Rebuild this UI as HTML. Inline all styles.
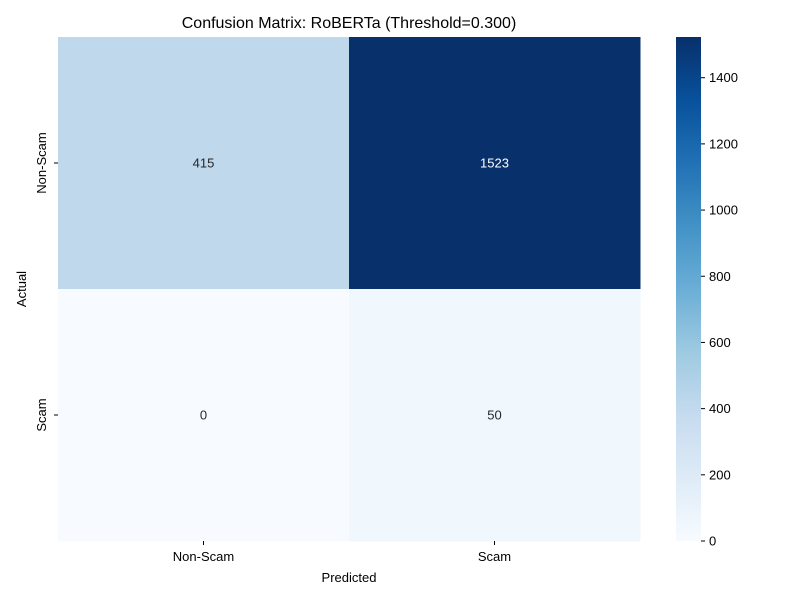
<!DOCTYPE html>
<html><head><meta charset="utf-8"><style>body{margin:0;background:#fff}svg{font-family:"Liberation Sans","DejaVu Sans",sans-serif}</style></head>
<body>
<svg id="c" width="800" height="600" viewBox="0 0 800 600">
<defs><linearGradient id="cbg" x1="0" y1="1" x2="0" y2="0"></linearGradient></defs>
<text x="349" y="28" text-anchor="middle" font-size="16" fill="#000">Confusion Matrix: RoBERTa (Threshold=0.300)</text>
<g id="cells"></g>
<g id="xt"></g><g id="yt"></g>
<text x="349" y="582" text-anchor="middle" font-size="13">Predicted</text>
<text transform="translate(26,289) rotate(-90)" text-anchor="middle" font-size="13">Actual</text>
<rect x="676" y="37" width="25" height="504" fill="url(#cbg)"/>
<g id="cbt"></g>
</svg>
<script>
const categories = ["Non-Scam","Scam"];
const matrix = [[415,1523],[0,50]];
const cbTicks = [0,200,400,600,800,1000,1200,1400];
const stops=["#f7fbff","#deebf7","#c6dbef","#9ecae1","#6baed6","#4292c6","#2171b5","#08519c","#08306b"];
const NS="http://www.w3.org/2000/svg";
const X0=58,X1=640,Y0=37,Y1=541;
const vmin=Math.min(...matrix.flat()),vmax=Math.max(...matrix.flat());
function h2r(h){return [1,3,5].map(i=>parseInt(h.substr(i,2),16));}
function cmap(v){let t=(v-vmin)/(vmax-vmin);t=Math.max(0,Math.min(1,t))*(stops.length-1);const i=Math.min(Math.floor(t),stops.length-2),f=t-i;const a=h2r(stops[i]),b=h2r(stops[i+1]);const c=a.map((x,k)=>Math.round(x+(b[k]-x)*f));return {s:`rgb(${c})`,l:(0.299*c[0]+0.587*c[1]+0.114*c[2])/255};}
function el(t,a,p){const e=document.createElementNS(NS,t);for(const k in a)e.setAttribute(k,a[k]);p.appendChild(e);return e;}
const n=categories.length,cw=(X1-X0)/n,ch=(Y1-Y0)/n;
const cells=document.getElementById('cells');
matrix.forEach((row,r)=>row.forEach((v,c)=>{
 const col=cmap(v);
 const rc=el('rect',{x:X0+c*cw,y:Y0+r*ch,width:cw+0.5,height:ch+0.5,fill:col.s},cells);
 
 
 const t=el('text',{x:X0+(c+.5)*cw,y:Y0+(r+.5)*ch+4.5,'text-anchor':'middle','font-size':13,fill:col.l<0.5?'#fff':'#262626'},cells);
 t.textContent=v;
 
 
}));
const xt=document.getElementById('xt'),yt=document.getElementById('yt');
categories.forEach((c,i)=>{
 const x=X0+(i+.5)*cw;
 el('line',{x1:x,x2:x,y1:Y1,y2:Y1+4,stroke:'#000'},xt);
 const t=el('text',{x:x,y:Y1+20,'text-anchor':'middle','font-size':13},xt);t.textContent=c;
 
 
 const y=Y0+(i+.5)*ch;
 el('line',{x1:X0-4,x2:X0,y1:y,y2:y,stroke:'#000'},yt);
 const u=el('text',{transform:`translate(${X0-12},${y}) rotate(-90)`,'text-anchor':'middle','font-size':13},yt);u.textContent=c;
 
 
});
const g=document.getElementById('cbg');
stops.forEach((s,i)=>el('stop',{offset:i/(stops.length-1),'stop-color':s},g));
const cb=document.getElementById('cbt');
cbTicks.forEach(v=>{
 const y=Y1-(v-vmin)/(vmax-vmin)*(Y1-Y0);
 el('line',{x1:701,x2:705,y1:y,y2:y,stroke:'#000'},cb);
 const t=el('text',{x:709,y:y+4.5,'font-size':13},cb);t.textContent=v;
 
 
});
</script>
</body></html>
